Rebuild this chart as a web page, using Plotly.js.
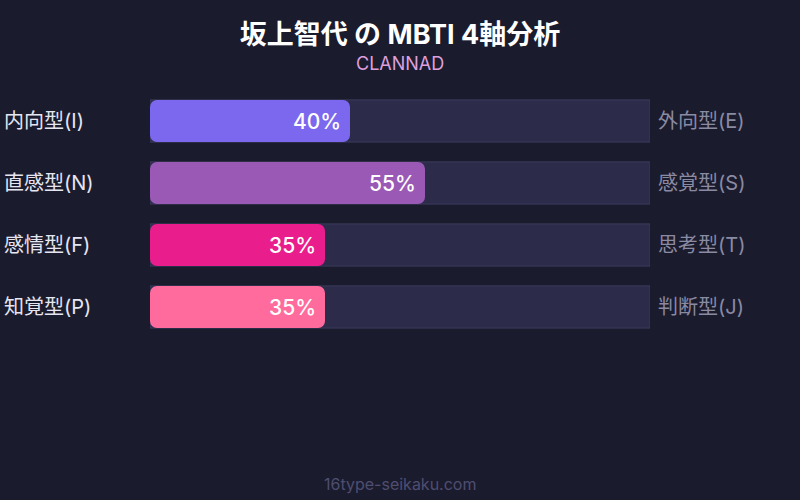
<!DOCTYPE html>
<html>
<head>
<meta charset="utf-8">
<script src="https://cdn.plot.ly/plotly-3.0.1.min.js"></script>
<style>
  html, body { margin: 0; padding: 0; background: #1b1b2e; }
  #chart { width: 800px; height: 500px; }
</style>
</head>
<body>
<div id="chart"></div>
<script>
var CHART = document.getElementById('chart');

// data
var axes = ['EI', 'NS', 'FT', 'PJ'];
var leftLabels = ['内向型(I)', '直感型(N)', '感情型(F)', '知覚型(P)'];
var rightLabels = ['外向型(E)', '感覚型(S)', '思考型(T)', '判断型(J)'];
var scores = [40, 55, 35, 35];
var barColors = ['#7b68ee', '#9b59b6', '#e91e8c', '#ff6b9d'];
var fullScale = [100, 100, 100, 100];
var zeroBase = [0, 0, 0, 0];

var FONT = 'Inter, "Noto Sans CJK JP", sans-serif';

var track = {
    type: 'bar',
    orientation: 'h',
    x: fullScale,
    y: axes,
    yaxis: 'y',
    width: 0.68,
    marker: {
        color: '#2d2b4a',
        line: { color: '#3d3b5e', width: 1 }
    },
    hoverinfo: 'skip',
    showlegend: false
};

// an explicit base makes plotly treat it as a floating bar and round all four corners;
// it sits on its own y axis so the track does not block the rounding
var score = {
    type: 'bar',
    orientation: 'h',
    x: scores,
    base: zeroBase,
    y: axes,
    yaxis: 'y2',
    width: 0.68,
    marker: { color: barColors, cornerradius: 7 },
    showlegend: false
};

var annotations = [];
axes.forEach(function (a, i) {
    annotations.push({
        xref: 'paper', yref: 'y', x: -0.296, y: a,
        xanchor: 'left', yanchor: 'middle', showarrow: false,
        text: leftLabels[i],
        font: { family: FONT, size: 20, color: '#e6e6f2' }
    });
    annotations.push({
        xref: 'paper', yref: 'y', x: 1.012, y: a,
        xanchor: 'left', yanchor: 'middle', showarrow: false,
        text: rightLabels[i],
        font: { family: FONT, size: 20, color: '#8a8aa3' }
    });
    // percentage inside the end of each bar
    annotations.push({
        xref: 'x', yref: 'y', x: scores[i], y: a,
        xanchor: 'right', yanchor: 'middle', xshift: -7, showarrow: false,
        text: scores[i] + '%',
        font: { family: FONT, size: 21, color: '#ffffff', weight: 500 }
    });
});
annotations.push({
    xref: 'paper', yref: 'paper', x: 0.5, y: 1.105,
    xanchor: 'center', yanchor: 'middle', showarrow: false,
    text: 'CLANNAD',
    font: { family: FONT, size: 18, color: '#dda0dd' }
});
annotations.push({
    xref: 'paper', yref: 'paper', x: 0.5, y: -0.59,
    xanchor: 'center', yanchor: 'middle', showarrow: false,
    text: '16type-seikaku.com',
    font: { family: FONT, size: 16, color: '#4e4e70' }
});

function hidden(extra) {
    return Object.assign({
        showgrid: false, zeroline: false, showticklabels: false, fixedrange: true
    }, extra);
}

var layout = {
    width: 800,
    height: 500,
    paper_bgcolor: '#1b1b2e',
    plot_bgcolor: '#1b1b2e',
    margin: { l: 150, r: 150, t: 90, b: 162 },
    title: {
        text: '<b>坂上智代 の MBTI 4軸分析</b>',
        font: { family: FONT, size: 27, color: '#ffffff' },
        x: 0.5, xanchor: 'center',
        y: 0.93, yanchor: 'middle'
    },
    xaxis: hidden({ range: [0, 100] }),
    yaxis: hidden({ autorange: 'reversed' }),
    yaxis2: hidden({ autorange: 'reversed', overlaying: 'y', matches: 'y' }),
    annotations: annotations
};

Plotly.newPlot(CHART, [track, score], layout, { displayModeBar: false, staticPlot: true });
</script>
</body>
</html>
